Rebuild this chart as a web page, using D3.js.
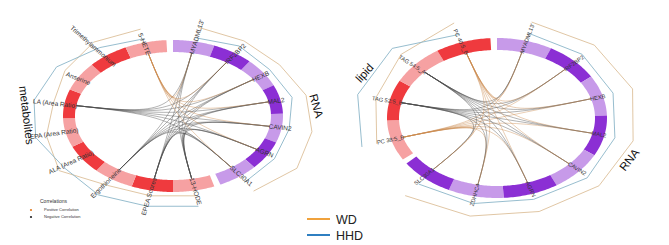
<!DOCTYPE html>
<html>
<head>
<meta charset="utf-8">
<script src="https://cdn.jsdelivr.net/npm/d3@7"></script>
<style>
  body { margin: 0; background: #fff; }
  svg { display: block; font-family: "Liberation Sans", Arial, sans-serif; }
</style>
</head>
<body>
<svg id="chart" width="669" height="245"></svg>
<script>
// ---- data ----
// left panel: RNA vs metabolites
const leftRNA = ["MYADML13'", "IRF2BP2", "HEXB", "MAL2", "CAVIN2", "AGRN", "SLC30A1"];
const leftMetabolites = ["13-HODE", "EPEA Scores", "Ergothioneine", "ALA (Area Ratio)", "EPA (Area Ratio)",
    "LA (Area Ratio)", "Anserine", "Trimethylammonium", "5-HETE"];
const leftRNA_WD = [1.19, 1.18, 1.18, 1.24, 1.28, 1.32, 1.23];
const leftRNA_HHD = [1.05, 1.10, 1.07, 1.11, 1.07, 1.08, 1.09];
const leftMet_WD = [1.07, 1.07, 1.09, 1.26, 1.18, 1.10, 1.15, 1.21, 1.18];
const leftMet_HHD = [1.21, 1.21, 1.24, 1.20, 1.28, 1.28, 1.24, 1.12, 1.05];
// correlation sign of each metabolite with the RNA set (1 positive, -1 negative, 0 none)
const leftMetSign = [-1, -1, -1, 0, 0, -1, 0, 0, 1];

// right panel: RNA vs lipids
const rightRNA = ["MYADML13'", "IRF2BP2", "HEXB", "MAL2", "CAVIN2", "AGRN", "ZDHHC4", "SLC30A1"];
const rightLipids = ["PC 38:5_B", "TAG 52:5_B", "TAG 54:5_A", "PC 40:5_B"];
const rightRNA_WD = [1.24, 1.27, 1.285, 1.27, 1.256, 1.23, 1.25, 1.28];
const rightRNA_HHD = [1.10, 1.11, 1.10, 1.10, 1.11, 1.07, 1.09, 1.09];
const rightLip_WD = [1.14, 1.13, 1.18, 1.25];
const rightLip_HHD = [1.28, 1.30, 1.29, 1.10];
const rightLipSign = [1, -1, -1, 1];

const legendSeries = ["WD", "HHD"];
const correlationTypes = ["Positive Correlation", "Negative Correlation"];

// ---- styles ----
const RED = "#ef3a3e", RED_L = "#f6a1a2", PUR = "#8b2fd4", PUR_L = "#c79ae9";
const WD_LINE = "#dcc09a", HHD_LINE = "#8bb6c8";
const POS = "#c98a4c", NEG = "#4a4a4a";

const svg = d3.select("#chart");

function circos(cfg) {
    const g = svg.append("g");
    const cx = cfg.cx, cy = cfg.cy, rx = cfg.rx, ry = cfg.ry, ring = 12;
    const gap = 0.06;
    const nA = cfg.rna.length, nB = cfg.other.length;
    const step = (2 * Math.PI - 2 * gap) / (nA + nB);

    // angles clockwise from the top
    const angRNA = d3.scaleBand().domain(cfg.rna).range([0, step * nA]);
    const angOther = d3.scaleBand().domain(cfg.other).range([step * nA + gap, 2 * Math.PI - gap]);
    const midRNA = d => angRNA(d) + angRNA.bandwidth() / 2;
    const midOther = d => angOther(d) + angOther.bandwidth() / 2;

    const pt = (a, ax, ay) => [cx + ax * Math.sin(a), cy - ay * Math.cos(a)];
    const ptF = (a, f) => pt(a, rx * f, ry * f);

    function segment(a0, a1) {
        const k = 30;
        const outer = d3.range(k + 1).map(i => pt(a0 + (a1 - a0) * i / k, rx, ry));
        const inner = d3.range(k + 1).map(i => pt(a1 - (a1 - a0) * i / k, rx - ring, ry - ring));
        return d3.line()(outer.concat(inner)) + "Z";
    }

    // WD / HHD radial lines outside the ring
    const polys = [
        { names: cfg.rna, vals: cfg.rnaWD, mid: midRNA, col: WD_LINE },
        { names: cfg.rna, vals: cfg.rnaHHD, mid: midRNA, col: HHD_LINE },
        { names: cfg.other, vals: cfg.otherWD, mid: midOther, col: WD_LINE },
        { names: cfg.other, vals: cfg.otherHHD, mid: midOther, col: HHD_LINE }
    ];
    polys.forEach(p => {
        g.append("path")
            .attr("d", d3.line()(p.names.map((d, i) => ptF(p.mid(d), p.vals[i]))))
            .attr("fill", "none")
            .attr("stroke", p.col)
            .attr("stroke-width", 0.9);
    });

    // links, bundled through the centre
    const links = [];
    cfg.other.forEach((o, i) => {
        if (!cfg.sign[i]) return;
        cfg.rna.forEach(r => links.push({ s: midOther(o), t: midRNA(r), sign: cfg.sign[i] }));
    });
    const k = 0.07;
    g.append("g")
        .selectAll("path")
        .data(links)
        .join("path")
        .attr("d", d => {
            const s = pt(d.s, rx - ring, ry - ring), t = pt(d.t, rx - ring, ry - ring);
            const p = d3.path();
            p.moveTo(s[0], s[1]);
            p.bezierCurveTo(cx + (s[0] - cx) * k, cy + (s[1] - cy) * k,
                cx + (t[0] - cx) * k, cy + (t[1] - cy) * k, t[0], t[1]);
            return p.toString();
        })
        .attr("fill", "none")
        .attr("stroke", d => d.sign > 0 ? POS : NEG)
        .attr("stroke-opacity", 0.7)
        .attr("stroke-width", 0.6);

    // ring
    g.append("g")
        .selectAll("path")
        .data(cfg.rna)
        .join("path")
        .attr("d", d => segment(angRNA(d), angRNA(d) + angRNA.bandwidth()))
        .attr("fill", (d, i) => i % 2 ? PUR : PUR_L);
    g.append("g")
        .selectAll("path")
        .data(cfg.other)
        .join("path")
        .attr("d", d => segment(angOther(d), angOther(d) + angOther.bandwidth()))
        .attr("fill", (d, i) => i % 2 ? RED : RED_L);

    // item labels, starting at the inner edge of the ring
    const items = cfg.rna.map(d => ({ name: d, a: midRNA(d) }))
        .concat(cfg.other.map(d => ({ name: d, a: midOther(d) })));
    g.append("g")
        .selectAll("text")
        .data(items)
        .join("text")
        .attr("transform", d => {
            const p = pt(d.a, rx - ring - 1, ry - ring - 1);
            let deg = Math.atan2(p[1] - cy, p[0] - cx) * 180 / Math.PI;
            if (Math.sin(d.a) < 0) deg += 180;
            return "translate(" + p[0] + "," + p[1] + ") rotate(" + deg + ")";
        })
        .attr("text-anchor", d => Math.sin(d.a) < 0 ? "end" : "start")
        .attr("dy", "0.35em")
        .attr("font-size", cfg.font)
        .attr("fill", "#333")
        .text(d => d.name);

    // group titles
    cfg.titles.forEach(t => {
        const p = ptF(t.a, t.f);
        g.append("text")
            .attr("transform", "translate(" + p[0] + "," + p[1] + ") rotate(" + t.rot + ")")
            .attr("text-anchor", "middle")
            .attr("dy", "0.35em")
            .attr("font-size", 11.5)
            .attr("fill", "#111")
            .text(t.text);
    });
}

circos({
    cx: 173, cy: 116, rx: 110, ry: 76, font: 6.5,
    rna: leftRNA, other: leftMetabolites,
    rnaWD: leftRNA_WD, rnaHHD: leftRNA_HHD,
    otherWD: leftMet_WD, otherHHD: leftMet_HHD,
    sign: leftMetSign,
    titles: [
        { text: "metabolites", a: 4.72, f: 1.33, rot: 83 },
        { text: "RNA", a: 1.47, f: 1.31, rot: 75 }
    ]
});

circos({
    cx: 497, cy: 118, rx: 110, ry: 80, font: 5.7,
    rna: rightRNA, other: rightLipids,
    rnaWD: rightRNA_WD, rnaHHD: rightRNA_HHD,
    otherWD: rightLip_WD, otherHHD: rightLip_HHD,
    sign: rightLipSign,
    titles: [
        { text: "lipid", a: 5.15, f: 1.33, rot: -48 },
        { text: "RNA", a: 1.98, f: 1.31, rot: -52 }
    ]
});

// correlation legend (small, bottom left)
const cl = svg.append("g").attr("transform", "translate(31,201)");
cl.append("text").attr("x", 9).attr("y", 2).attr("font-size", 5).attr("fill", "#333").text("Correlations");
cl.selectAll("g.item")
    .data(correlationTypes)
    .join("g")
    .attr("class", "item")
    .attr("transform", (d, i) => "translate(0," + (9 + i * 7) + ")")
    .call(s => {
        s.append("circle").attr("r", 1.1).attr("fill", (d, i) => i ? "#222" : "#e07a1e");
        s.append("text").attr("x", 13).attr("dy", "0.35em").attr("font-size", 4).attr("fill", "#333").text(d => d);
    });

// WD / HHD legend
const lg = svg.append("g").attr("transform", "translate(307,219)");
lg.selectAll("g")
    .data(legendSeries)
    .join("g")
    .attr("transform", (d, i) => "translate(0," + i * 16 + ")")
    .call(s => {
        s.append("line").attr("x1", 0).attr("x2", 23)
            .attr("stroke", (d, i) => i ? "#2f7fc1" : "#f0a23c")
            .attr("stroke-width", 2);
        s.append("text").attr("x", 29).attr("dy", "0.38em").attr("font-size", 12.5).attr("fill", "#222").text(d => d);
    });
</script>
</body>
</html>
